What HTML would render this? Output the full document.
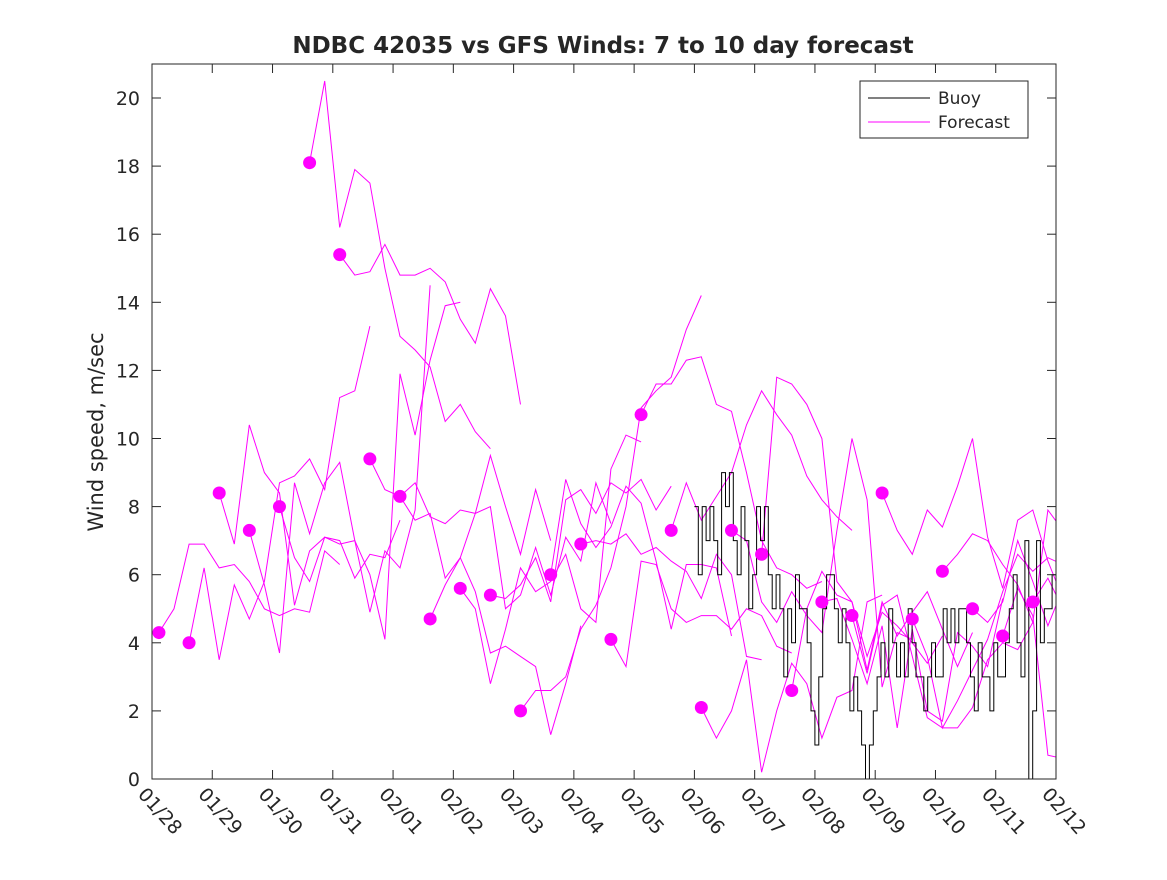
<!DOCTYPE html>
<html><head><meta charset="utf-8"><style>
body{margin:0;background:#fff;}
svg text{font-family:"DejaVu Sans","Liberation Sans",sans-serif;fill:#262626;}
</style></head><body>
<svg id="chart" width="1167" height="875" xmlns="http://www.w3.org/2000/svg">
<defs><clipPath id="clip"><rect x="152" y="64" width="904" height="715"/></clipPath></defs>
<rect x="0" y="0" width="1167" height="875" fill="#fff"/>
<text x="603" y="53" text-anchor="middle" font-size="23" font-weight="bold">NDBC 42035 vs GFS Winds: 7 to 10 day forecast</text>
<text transform="translate(103,432) rotate(-90)" text-anchor="middle" font-size="21">Wind speed, m/sec</text>
<g id="plot" clip-path="url(#clip)"></g>
<rect x="152" y="64" width="904" height="715" fill="none" stroke="#262626" stroke-width="1"/>
<g id="axes"></g>
<g>
<rect x="860" y="81" width="168" height="57" fill="#fff" stroke="#262626"/>
<line x1="868" y1="98" x2="930" y2="98" stroke="#000"/>
<text x="938" y="104" font-size="17">Buoy</text>
<line x1="868" y1="122" x2="930" y2="122" stroke="#f0f"/>
<text x="938" y="128" font-size="17">Forecast</text>
</g>
</svg>
<script>
const xTickLabels=["01/28","01/29","01/30","01/31","02/01","02/02","02/03","02/04","02/05","02/06","02/07","02/08","02/09","02/10","02/11","02/12"];
const yTicks=[0,2,4,6,8,10,12,14,16,18,20];
const dotValues=[4.3,4.0,8.4,7.3,8.0,18.1,15.4,9.4,8.3,4.7,5.6,5.4,2.0,6.0,6.9,4.1,10.7,7.3,2.1,7.3,6.6,2.6,5.2,4.8,8.4,4.7,6.1,5.0,4.2,5.2];
const f0=[4.3,5,6.9,6.9,6.2,6.3,5.8,5,4.8,5,4.9,6.7,6.3];
const f1=[4.0,6.2,3.5,5.7,4.7,5.8,8.7,8.9,9.4,8.5,11.2,11.4,13.3];
const f2=[8.4,6.9,10.4,9.0,8.4,5.1,6.7,7.1,7.0,5.9,6.6,6.5,7.6];
const f3=[7.3,5.7,3.7,8.7,7.2,8.7,9.3,7.0,4.9,6.7,6.2,7.9,14.5];
const f4=[8.0,6.5,5.8,7.1,6.9,7.0,6.0,4.1,11.9,10.1,12.3,13.9,14.0];
const f5=[18.1,20.5,16.2,17.9,17.5,15,13.0,12.6,12.1,10.5,11.0,10.2,9.7];
const f6=[15.4,14.8,14.9,15.7,14.8,14.8,15.0,14.6,13.5,12.8,14.4,13.6,11.0];
const f7=[9.4,8.5,8.3,8.7,7.7,7.5,7.9,7.8,9.5,8.0,6.6,8.5,7.0];
const f8=[8.3,7.6,7.8,5.9,6.5,5.5,3.7,3.9,3.6,3.3,1.3,2.8,4.5];
const f9=[4.7,5.7,6.5,7.8,8.0,5.0,5.4,6.8,5.4,7.1,6.4,8.7,7.5];
const f10=[5.6,5.0,2.8,4.4,6.2,5.5,5.8,6.6,5.0,4.6,9.1,10.1,9.9];
const f11=[5.4,5.3,5.7,6.5,5.2,8.2,8.5,7.8,8.7,8.4,8.8,7.9,8.6];
const f12=[2.0,2.6,2.6,3.0,4.4,5.1,6.2,8.0,10.9,11.4,11.8,13.2,14.2];
const f13=[6.0,8.8,7.5,6.8,7.4,8.6,8.1,6.4,4.4,6.3,6.3,6.2,4.2];
const f14=[6.9,7.0,6.9,7.2,6.6,6.8,6.4,6.1,5.3,6.6,6.0,3.6,3.5];
const f15=[4.1,3.3,6.4,6.3,5.0,4.6,4.8,4.8,4.4,5.0,4.8,3.9,3.7];
const f16=[10.7,11.6,11.6,12.3,12.4,11.0,10.8,9.0,7.0,6.2,6.0,5.6,5.8];
const f17=[7.3,8.7,7.6,8.3,9.0,10.4,11.4,10.7,10.1,8.9,8.2,7.7,7.3];
const f18=[2.1,1.2,2.0,3.5,0.2,2.0,3.4,2.8,1.2,2.4,2.6,5.2,5.4];
const f19=[7.3,7.0,5.2,4.6,5.5,4.8,4.3,7.3,10.0,8.2,2.7,4.3,4.1];
const f20=[6.6,11.8,11.6,11.0,10.0,5.8,5.2,3.6,4.9,4.5,4.0,3.4,4.2];
const f21=[2.6,5.0,6.1,5.4,5.2,3.2,5.2,4.2,4.9,5.5,4.4,3.3,4.3];
const f22=[5.2,5.3,4.1,2.8,4.5,1.5,4.4,2.0,1.7,4.3,3.9,3.3,5.3];
const f23=[4.8,3.1,5.1,5.4,3.6,1.8,1.5,1.5,2.1,3.5,4.0,3.8,4.6];
const f24=[8.4,7.3,6.6,7.9,7.4,8.6,10.0,7.1,5.6,7.6,7.9,6.4,5.3];
const f25=[4.7,3.6,1.5,2.3,3.2,4.1,5.5,6.6,6.1,6.5,6.3,6.1,7.4];
const f26=[6.1,6.6,7.2,7.0,6.3,5.7,4.6,7.9,7.3,6.6,5.4,4.2,3.8];
const f27=[5.0,4.6,5.2,7.0,5.8,4.5,5.6,6.9,7.2,6.9,5.7,4.6,3.8];
const f28=[4.2,5.6,4.8,0.7,0.6,1.3,2.5,2.4];
const f29=[5.2,5.9,5.0,4.4];
const forecasts=[f0,f1,f2,f3,f4,f5,f6,f7,f8,f9,f10,f11,f12,f13,f14,f15,f16,f17,f18,f19,f20,f21,f22,f23,f24,f25,f26,f27,f28,f29];
const buoyStart=9.0;
const buoyValues=[8,6,8,7,8,7,6,9,8,9,7,6,8,7,5,6,8,7,8,6,5,6,5,3,5,4,6,5,5,4,2,1,3,5,6,6,5,4,5,4,2,3,2,1,0,1,2,3,4,3,5,4,3,4,3,5,4,3,3,2,3,4,3,3,5,4,5,4,5,5,4,3,2,4,3,3,2,4,3,3,4,5,6,4,3,7,0,2,7,4,5,5,6];
const NS="http://www.w3.org/2000/svg";
const x0=152,x1=1056,y0=779,yTop=98;
function xs(d){return x0+d*(x1-x0)/15;}
function ys(v){return y0-v*(y0-yTop)/20;}
const plot=document.getElementById('plot'),axes=document.getElementById('axes');
function mk(tag,attrs,parent){const e=document.createElementNS(NS,tag);for(const k in attrs)e.setAttribute(k,attrs[k]);parent.appendChild(e);return e;}
forecasts.forEach((s,i)=>{
  const d0=0.115+0.5*i;
  const pts=s.map((v,j)=>xs(d0+j*0.25).toFixed(1)+','+ys(v).toFixed(1)).join(' ');
  const p=mk('polyline',{points:pts,fill:'none',stroke:'#f0f','stroke-width':1},plot);
  
  
});
{
  const dt=6/buoyValues.length;
  let pts=[];
  buoyValues.forEach((v,j)=>{pts.push(xs(buoyStart+j*dt).toFixed(1)+','+ys(v).toFixed(1));pts.push(xs(buoyStart+(j+1)*dt).toFixed(1)+','+ys(v).toFixed(1));});
  const p=mk('polyline',{points:pts.join(' '),fill:'none',stroke:'#000','stroke-width':1},plot);
  
  
}
dotValues.forEach((v,i)=>{
  const c=mk('ellipse',{cx:xs(0.115+0.5*i),cy:ys(v),rx:6.5,ry:6.5,fill:'#f0f'},plot);
  
  
});
yTicks.forEach(v=>{
  const y=ys(v);
  mk('line',{x1:x0,x2:x0+9,y1:y,y2:y,stroke:'#262626'},axes);
  mk('line',{x1:x1-9,x2:x1,y1:y,y2:y,stroke:'#262626'},axes);
  const t=mk('text',{x:x0-12,y:y+7,'text-anchor':'end','font-size':19},axes);
  t.textContent=v;
  
  
});
xTickLabels.forEach((lab,i)=>{
  const x=xs(i);
  mk('line',{x1:x,x2:x,y1:y0,y2:y0-9,stroke:'#262626'},axes);
  mk('line',{x1:x,x2:x,y1:64,y2:73,stroke:'#262626'},axes);
  const t=mk('text',{transform:`translate(${x-15},${y0+16}) rotate(48)`,'font-size':19},axes);
  t.textContent=lab;
  
  
});
</script>
</body></html>
